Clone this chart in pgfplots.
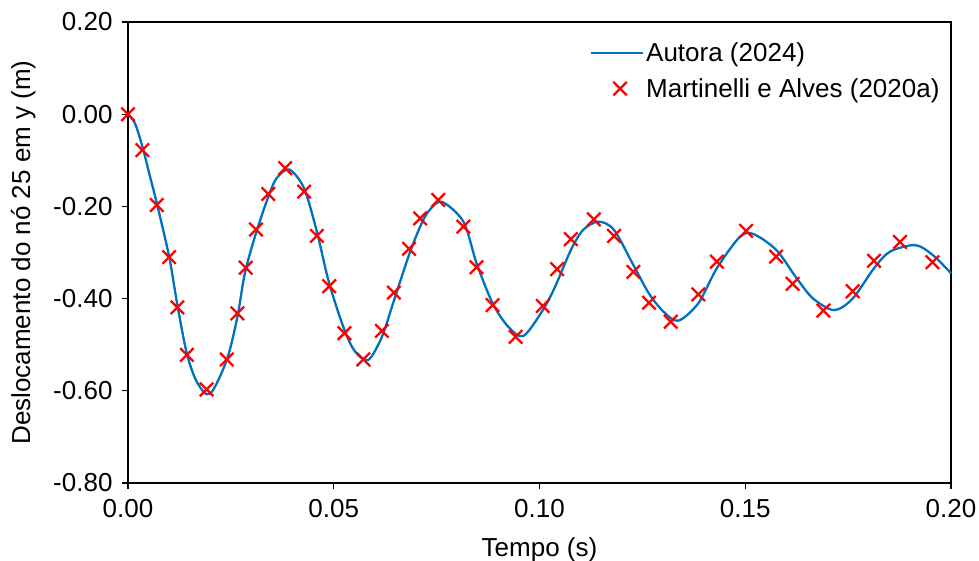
\documentclass[border=0pt]{standalone}
\usepackage{fontspec}
\setmainfont{Liberation Sans}
\usepackage{pgfplots}
\pgfplotsset{compat=1.18}
\definecolor{exblue}{RGB}{0,112,192}
\definecolor{exred}{RGB}{255,0,0}
\pgfplotsset{
  mylegline/.style={legend image code/.code={\draw[##1] (0bp,0bp) -- (52bp,0bp);}},
  mylegmark/.style={legend image code/.code={\draw[##1] plot coordinates {(29bp,0bp)};}},
}
\begin{document}
\begin{tikzpicture}
\begin{axis}[
  at={(0,0)}, anchor=south west,
  scale only axis, width=823bp, height=461bp,
  xmin=0, xmax=0.2, ymin=-0.8, ymax=0.2,
  xtick={0,0.05,0.1,0.15,0.2},
  xticklabels={0.00,0.05,0.10,0.15,0.20},
  ytick={-0.8,-0.6,-0.4,-0.2,0,0.2},
  yticklabels={-0.80,-0.60,-0.40,-0.20,0.00,0.20},
  xtick pos=bottom, ytick pos=left,
  tick align=outside, major tick length=6bp,
  tick style={black, line width=1.1bp},
  axis line style={black, line width=1.3bp},
  ticklabel style={font=\fontsize{26bp}{30bp}\selectfont},
  yticklabel style={xshift=-6bp},
  xticklabel style={yshift=-7bp},
  label style={font=\fontsize{26bp}{30bp}\selectfont},
  xlabel={Tempo (s)},
  ylabel={Deslocamento do nó 25 em y (m)},
  xlabel style={at={(axis description cs:0.5,0)}, anchor=north, yshift=-51bp},
  ylabel style={at={(axis description cs:0,0.5)}, anchor=south, yshift=89bp},
  legend style={draw=none, fill=none, at={(axis description cs:0.561,0.959)}, anchor=north west,
    font=\fontsize{26bp}{30bp}\selectfont, row sep=11bp, inner sep=0pt, cells={anchor=west}},
  clip=false,
]
\addplot[exblue, line width=2.3bp, smooth, tension=0.5, mylegline] coordinates {
(0.0000,0.000) (0.0017,-0.020) (0.0035,-0.070) (0.0052,-0.130) (0.0070,-0.193)
(0.0100,-0.309) (0.0120,-0.414) (0.0143,-0.519) (0.0167,-0.580) (0.0199,-0.607)
(0.0240,-0.533) (0.0266,-0.439) (0.0284,-0.345) (0.0311,-0.258) (0.0341,-0.179)
(0.0361,-0.139) (0.0392,-0.120) (0.0428,-0.161) (0.0459,-0.255) (0.0489,-0.367)
(0.0526,-0.468) (0.0552,-0.515) (0.0584,-0.533) (0.0617,-0.483) (0.0646,-0.405)
(0.0683,-0.305) (0.0710,-0.244) (0.0730,-0.211) (0.0762,-0.190) (0.0815,-0.233)
(0.0847,-0.323) (0.0886,-0.410) (0.0924,-0.461) (0.0961,-0.481) (0.1008,-0.425)
(0.1038,-0.374) (0.1076,-0.295) (0.1106,-0.251) (0.1143,-0.233) (0.1181,-0.251)
(0.1228,-0.327) (0.1266,-0.389) (0.1301,-0.428) (0.1337,-0.448) (0.1386,-0.410)
(0.1431,-0.334) (0.1487,-0.266) (0.1520,-0.260) (0.1576,-0.295) (0.1625,-0.356)
(0.1665,-0.400) (0.1716,-0.425) (0.1761,-0.400) (0.1813,-0.334) (0.1852,-0.298)
(0.1913,-0.284) (0.1955,-0.305) (0.2000,-0.345)
};
\addlegendentry{Autora (2024)}
\addplot[only marks, mark=x, mark size=9.5bp, mark options={exred, line width=2.3bp}, mylegmark] coordinates {
(0.0000,0.000) (0.0035,-0.078) (0.0070,-0.197) (0.0100,-0.310) (0.0120,-0.419)
(0.0143,-0.522) (0.0191,-0.597) (0.0240,-0.532) (0.0266,-0.432) (0.0286,-0.333)
(0.0311,-0.250) (0.0341,-0.173) (0.0382,-0.117) (0.0428,-0.168) (0.0459,-0.264)
(0.0489,-0.373) (0.0526,-0.475) (0.0572,-0.532) (0.0617,-0.470) (0.0646,-0.387)
(0.0683,-0.292) (0.0710,-0.226) (0.0754,-0.186) (0.0815,-0.244) (0.0847,-0.332)
(0.0886,-0.414) (0.0942,-0.483) (0.1008,-0.416) (0.1043,-0.336) (0.1076,-0.271)
(0.1132,-0.228) (0.1181,-0.264) (0.1228,-0.342) (0.1266,-0.409) (0.1319,-0.450)
(0.1386,-0.391) (0.1431,-0.320) (0.1502,-0.253) (0.1575,-0.309) (0.1615,-0.368)
(0.1690,-0.426) (0.1761,-0.384) (0.1813,-0.318) (0.1876,-0.277) (0.1955,-0.321)
};
\addlegendentry{Martinelli e Alves (2020a)}
\end{axis}
\pgfresetboundingbox
\path[use as bounding box] (-128bp,-78bp) rectangle (851bp,483bp);
\end{tikzpicture}
\end{document}
